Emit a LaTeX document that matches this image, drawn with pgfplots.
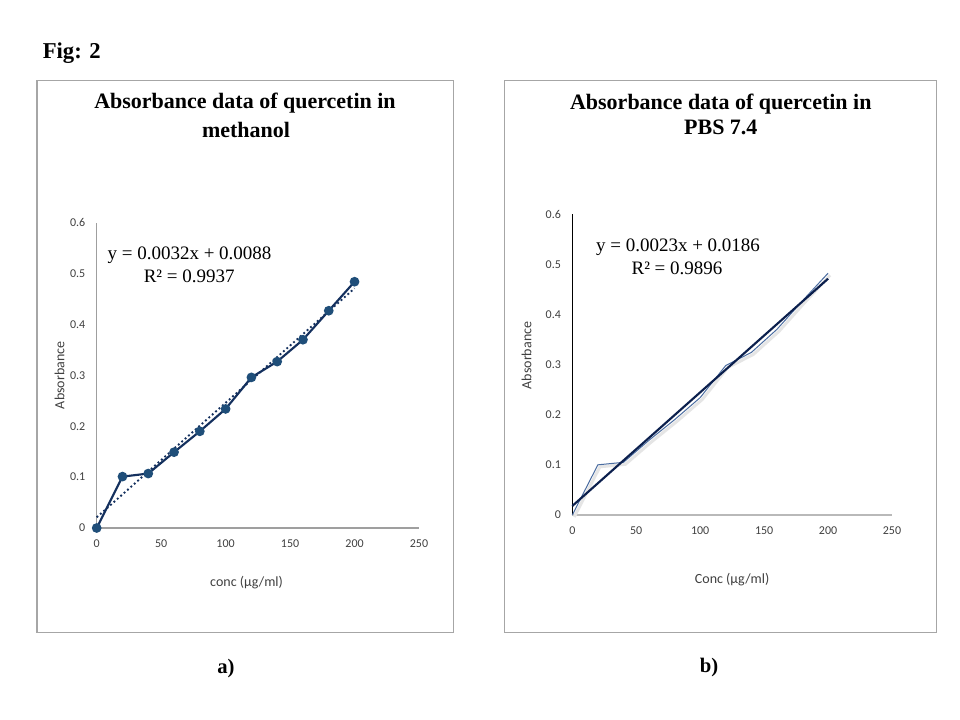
\documentclass[border=0pt]{standalone}
\usepackage{pgfplots}
\pgfplotsset{compat=1.18}
\usepackage{fontspec}
\setmainfont{Liberation Serif}
\newfontfamily\carlito{Carlito}
\definecolor{navy}{HTML}{14305E}
\definecolor{mark}{HTML}{1F4E79}
\definecolor{trend}{HTML}{0B1F4D}
\definecolor{thinc}{HTML}{4A6CA0}
\definecolor{boxc}{HTML}{A6A6A6}
\definecolor{tickc}{HTML}{404040}
\newcommand\pp[2]{({(#1)*0.75pt},{(720-(#2))*0.75pt})}
\begin{document}
\begin{tikzpicture}
\fill[white] (0,0) rectangle (720pt,540pt);
\draw[boxc, line width=0.9pt] \pp{37}{80.3} rectangle \pp{453.3}{632.3};
\draw[boxc, line width=0.9pt] \pp{504.3}{80.3} rectangle \pp{936.3}{632.3};
\node[anchor=base west, inner sep=0, font=\bfseries\fontsize{17}{20}\selectfont] at \pp{42.5}{59} {Fig: 2};
\node[anchor=base, inner sep=0, font=\bfseries\fontsize{16.5}{18}\selectfont] at \pp{245}{109} {Absorbance data of quercetin in};
\node[anchor=base, inner sep=0, font=\bfseries\fontsize{16.5}{18}\selectfont] at \pp{246}{138} {methanol};
\node[anchor=base, inner sep=0, font=\bfseries\fontsize{16.5}{18}\selectfont] at \pp{720.8}{110} {Absorbance data of quercetin in};
\node[anchor=base, inner sep=0, font=\bfseries\fontsize{16.5}{18}\selectfont] at \pp{720.8}{135} {PBS 7.4};
\node[anchor=base, inner sep=0, font=\bfseries\fontsize{15.5}{18}\selectfont] at \pp{226}{674} {a)};
\node[anchor=base, inner sep=0, font=\bfseries\fontsize{15.5}{18}\selectfont] at \pp{709}{673} {b)};
\pgfplotsset{
  myaxis/.style={
    scale only axis, enlargelimits=false, clip=false,
    xmin=0, xmax=250, ymin=0, ymax=0.6,
    axis x line=bottom, axis y line=left,
    xtick={0,50,...,250}, ytick={0,0.1,0.2,0.3,0.4,0.5,0.6},
    major tick length=0pt,
    /pgf/number format/assume math mode=true,
    yticklabel style={/pgf/number format/fixed, /pgf/number format/precision=1},
    ticklabel style={font=\carlito\fontsize{9}{10}\selectfont, text=tickc},
    every x tick label/.append style={yshift=-5pt},
    every y tick label/.append style={xshift=-5pt},
    label style={font=\carlito\fontsize{10.5}{12}\selectfont, text=tickc},
  }
}
\begin{axis}[myaxis,
  at={(72.525pt,144pt)}, anchor=south west,
  width=241.725pt, height=228.975pt,
  x axis line style={draw=gray!75, line width=0.8pt, -},
  y axis line style={draw=gray!75, line width=0.8pt, -},
  xlabel={conc (µg/ml)}, ylabel={Absorbance},
  xlabel style={at={(axis description cs:0.465,-0.18)}, anchor=center},
  ylabel style={at={(axis description cs:-0.115,0.5)}, anchor=center, rotate=0},
]
\addplot[navy, dotted, line width=1.4pt] coordinates {(0,0.021) (200,0.471)};
\addplot[navy, line width=1.6pt, mark=*, mark size=2.8pt, mark options={solid, fill=mark, draw=mark}] coordinates {
(0,0) (20,0.101) (40,0.107) (60,0.149) (80,0.190) (100,0.234) (120,0.296) (140,0.327) (160,0.370) (180,0.427) (200,0.484)};
\end{axis}
\begin{axis}[myaxis,
  at={(429.225pt,153.75pt)}, anchor=south west,
  width=239.775pt, height=225.75pt,
  x axis line style={draw=gray!55, line width=0.8pt, -},
  y axis line style={draw=black, line width=0.8pt, -},
  xlabel={Conc (µg/ml)}, ylabel={Absorbance},
  xlabel style={at={(axis description cs:0.5,-0.216)}, anchor=center},
  ylabel style={at={(axis description cs:-0.143,0.53)}, anchor=center, rotate=0},
]
\addplot[gray!20, line width=2.2pt, xshift=1.5pt, yshift=-1.5pt] coordinates {
(0,0) (20,0.100) (40,0.105) (60,0.149) (80,0.190) (100,0.234) (120,0.298) (140,0.324) (160,0.370) (180,0.427) (200,0.482)};
\addplot[color=thinc, line width=0.75pt] coordinates {
(0,0) (20,0.100) (40,0.105) (60,0.149) (80,0.190) (100,0.234) (120,0.298) (140,0.324) (160,0.370) (180,0.427) (200,0.482)};
\addplot[trend, line width=1.6pt] coordinates {(0,0.018) (200,0.471)};
\end{axis}
\node[anchor=base, inner sep=0, font=\fontsize{14.25}{17}\selectfont] at \pp{189.5}{260} {y = 0.0032x + 0.0088};
\node[anchor=base, inner sep=0, font=\fontsize{14.25}{17}\selectfont] at \pp{189.2}{283} {R² = 0.9937};
\node[anchor=base, inner sep=0, font=\fontsize{14.25}{17}\selectfont] at \pp{678}{252} {y = 0.0023x + 0.0186};
\node[anchor=base, inner sep=0, font=\fontsize{14.25}{17}\selectfont] at \pp{677}{275} {R² = 0.9896};
\end{tikzpicture}
\end{document}
